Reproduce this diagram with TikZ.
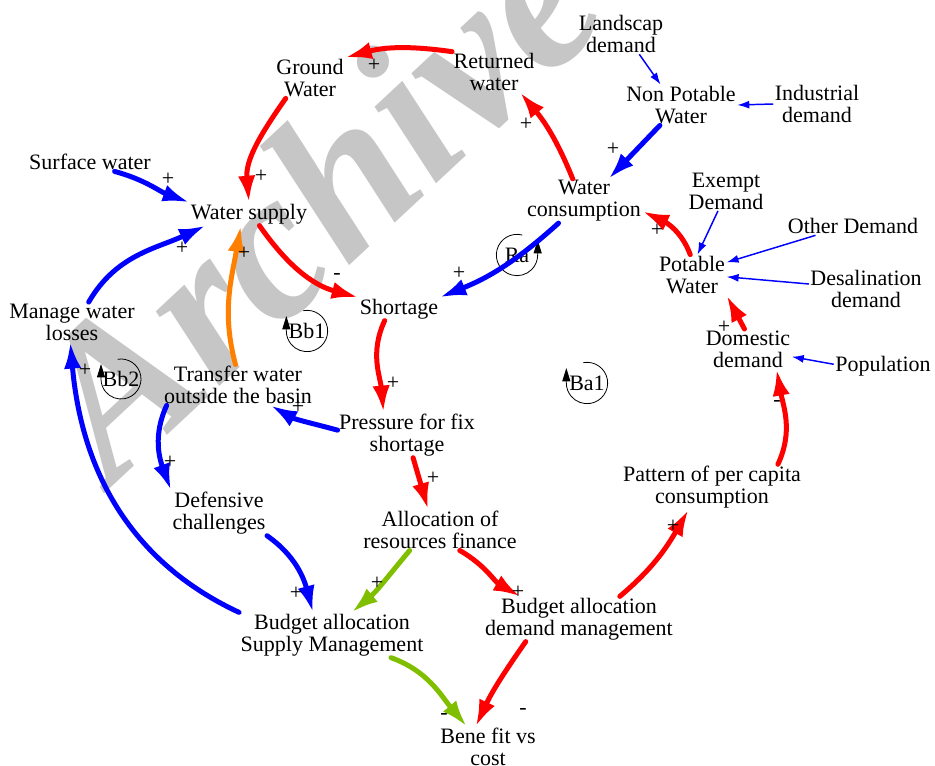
\documentclass[tikz,border=0pt]{standalone}
\usepackage{fontspec}
\setmainfont{Liberation Serif}
\usepackage{xcolor}
\usepackage{tikz}
\usetikzlibrary{arrows.meta}
\definecolor{cldred}{RGB}{255,0,0}
\definecolor{cldblue}{RGB}{0,0,255}
\definecolor{cldorange}{RGB}{255,128,0}
\definecolor{cldgreen}{RGB}{128,191,0}
\definecolor{cldgrey}{RGB}{198,198,198}
\begin{document}
\begin{tikzpicture}[
  x=0.75pt, y=0.75pt,
  font=\fontsize{16.5pt}{16.5pt}\selectfont,
  var/.style={align=center, inner sep=1pt},
  sgn/.style={inner sep=0pt},
  lnk/.style={-{Latex[length=20pt,width=13pt]}, line width=3.75pt, line cap=round},
  thinlnk/.style={-{Latex[length=9pt,width=6pt]}, line width=1.1pt, cldblue},
  loopmark/.style={-{Triangle[length=10pt,width=6pt]}, line width=0.6pt},
  wmark/.style={text=cldgrey, inner sep=0pt, font=\fontsize{160pt}{160pt}\selectfont\bfseries\itshape}
]
\useasboundingbox (0,0) rectangle (935,765);
\clip (0,0) rectangle (935,765);
\node[wmark, rotate=43, anchor=base west] (wm) at (112,278) {Archive of SID};

\node[var] (gw) at (310,687) {Ground\\Water};
\node[var] (rw) at (494,693) {Returned\\water};
\node[var] (ld) at (621,731) {Landscap\\demand};
\node[var] (npw) at (681,660) {Non Potable\\Water};
\node[var] (ind) at (817,661) {Industrial\\demand};
\node[var] (sw) at (90,603) {Surface water};
\node[var] (ws) at (249,551) {Water supply};
\node[var] (wc) at (584,564) {Water\\consumption};
\node[var] (ed) at (726,574) {Exempt\\Demand};
\node[var] (od) at (853,539) {Other Demand};
\node[var] (pw) at (692,490) {Potable\\Water};
\node[var] (dd) at (866,476) {Desalination\\demand};
\node[var] (mwl) at (72,443) {Manage water\\losses};
\node[var] (sh) at (399,456) {Shortage};
\node[var] (dom) at (748,416) {Domestic\\demand};
\node[var] (pop) at (883,399) {Population};
\node[var] (tw) at (238,380) {Transfer water\\outside the basin};
\node[var] (pfs) at (407,330) {Pressure for fix\\shortage};
\node[var] (def) at (219,252) {Defensive\\challenges};
\node[var] (pat) at (712,278) {Pattern of per capita\\consumption};
\node[var] (arf) at (440,235) {Allocation of\\resources finance};
\node[var] (bdm) at (579,146) {Budget allocation\\demand management};
\node[var] (bsm) at (332,130) {Budget allocation\\Supply Management};
\node[var] (bvc) at (488,18) {Bene fit vs\\cost};

\node[var] (ra) at (517,510) {Ra};
\node[var] (bbone) at (307,434) {Bb1};
\node[var] (bbtwo) at (121,386) {Bb2};
\node[var] (baone) at (587,382) {Ba1};
\draw[loopmark] ([shift={(75:15.5pt)}]ra.center) arc[start angle=75, end angle=360, radius=15.5pt] -- ++(0,15);
\draw[loopmark] ([shift={(100:15.5pt)}]bbone.center) arc[start angle=100, end angle=-180, radius=15.5pt] -- ++(0,15);
\draw[loopmark] ([shift={(100:15pt)}]bbtwo.center) arc[start angle=100, end angle=-180, radius=15pt] -- ++(0,15);
\draw[loopmark] ([shift={(100:15.5pt)}]baone.center) arc[start angle=100, end angle=-180, radius=15.5pt] -- ++(0,15);

\draw[lnk, cldred] (rw.north west) to[out=172, in=15] (gw.north east);
\draw[lnk, cldred] (gw.-140) to[out=-125, in=95] (ws.north);
\draw[lnk, cldblue] (sw.-21) to[out=-15, in=160] (ws.north west);
\draw[lnk, cldblue] (mwl.50) to[out=60, in=-155] (ws.-165);
\draw[lnk, cldorange] (tw.97) to[out=105, in=-100] (ws.-125);
\draw[lnk, cldred] (ws.-48) to[out=-55, in=165] (sh.north west);
\draw[lnk, cldblue] (wc.-139) to[out=-138, in=22] (sh.north east);
\draw[lnk, cldred] (wc.117) to[out=112, in=-50] (rw.-38);
\draw[lnk, cldblue] (npw.-136) -- (wc.42);
\draw[thinlnk] (ld.-48) -- (npw.135);
\draw[thinlnk] (ind.west) -- (npw.east);
\draw[lnk, cldred] (pw.95) to[out=110, in=-25] (wc.-10);
\draw[thinlnk] (ed.-112) -- (pw.75);
\draw[thinlnk] (od.-166) -- (pw.20);
\draw[thinlnk] (dd.175) -- (pw.-3);
\draw[lnk, cldred] (dom.100) -- (pw.south east);
\draw[thinlnk] (pop.178) -- (dom.-10);
\draw[lnk, cldred] (pat.19) to[out=65, in=-80] (dom.-35);
\draw[lnk, cldred] (bdm.29) to[out=40, in=-120] (pat.-136);
\draw[lnk, cldred] (sh.-141) to[out=-115, in=95] (pfs.136);
\draw[lnk, cldblue] (pfs.176) to[out=165, in=-30] (tw.-32);
\draw[lnk, cldblue] (tw.-164) to[out=-115, in=110] (def.north west);
\draw[lnk, cldred] (pfs.-75) -- (arf.120);
\draw[lnk, cldgreen] (arf.-146) to[out=-130, in=40] (bsm.49);
\draw[lnk, cldred] (arf.-46) to[out=-30, in=150] (bdm.159);
\draw[lnk, cldblue] (def.south east) to[out=-35, in=105] (bsm.130);
\draw[lnk, cldblue] (bsm.north west) to[out=155, in=-85] (mwl.-95);
\draw[lnk, cldgreen] (bsm.-21) to[out=-20, in=130] (bvc.136);
\draw[lnk, cldred] (bdm.-157) to[out=-125, in=65] (bvc.121);

\node[sgn] (s1) at (374,700) {+};
\node[sgn] (s2) at (261,589) {+};
\node[sgn] (s3) at (168,586) {+};
\node[sgn] (s4) at (182,517) {+};
\node[sgn] (s5) at (244,512) {+};
\node[sgn] (s6) at (337,489) {-};
\node[sgn] (s7) at (459,492) {+};
\node[sgn] (s8) at (526,641) {+};
\node[sgn] (s9) at (613,616) {+};
\node[sgn] (s10) at (657,535) {+};
\node[sgn] (s11) at (724,438) {+};
\node[sgn] (s12) at (777,362) {-};
\node[sgn] (s13) at (673,239) {+};
\node[sgn] (s14) at (393,382) {+};
\node[sgn] (s15) at (298,358) {+};
\node[sgn] (s16) at (170,303) {+};
\node[sgn] (s17) at (433,287) {+};
\node[sgn] (s18) at (377,182) {+};
\node[sgn] (s19) at (296,172) {+};
\node[sgn] (s20) at (518,173) {+};
\node[sgn] (s21) at (85,395) {+};
\node[sgn] (s22) at (444,49) {-};
\node[sgn] (s23) at (523,54) {-};
\end{tikzpicture}
\end{document}
